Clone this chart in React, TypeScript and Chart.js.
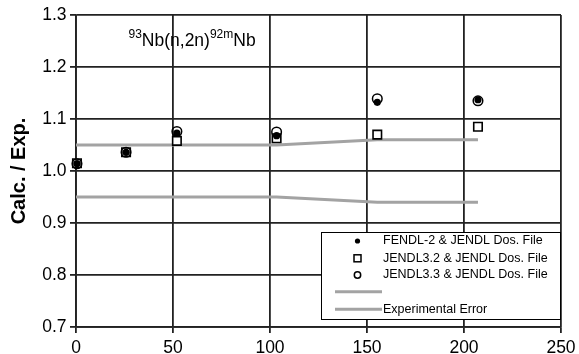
import React, { useEffect, useRef } from "react";
import { Chart, registerables } from "chart.js";
Chart.register(...registerables);

const xPts = [0.5, 25.8, 52, 103.4, 155.3, 207.2];
const yFendl = [1.014, 1.036, 1.073, 1.068, 1.132, 1.137];
const yJendl32 = [1.015, 1.036, 1.058, 1.063, 1.07, 1.085];
const yJendl33 = [1.014, 1.036, 1.076, 1.075, 1.139, 1.135];
const xErr = [0, 25.8, 52, 103.4, 155.3, 207.2];
const errUpper = [1.05, 1.05, 1.05, 1.05, 1.06, 1.06];
const errLower = [0.95, 0.95, 0.95, 0.95, 0.94, 0.94];
const legendLabels = [
  "FENDL-2 & JENDL Dos. File",
  "JENDL3.2 & JENDL Dos. File",
  "JENDL3.3 & JENDL Dos. File",
  "",
  "Experimental Error",
];
const yTitle = "Calc. / Exp.";
const FONT = "'Liberation Sans', Arial, sans-serif";
const ERR_COLOR = "#a3a3a3";

const pts = (xs: number[], ys: number[]) => xs.map((x, i) => ({ x, y: ys[i] }));

const overlay = {
  id: "overlay",
  afterDraw(chart: any) {
    const ctx = chart.ctx as CanvasRenderingContext2D;
    const ca = chart.chartArea;
    ctx.save();
    // y axis title
    ctx.save();
    ctx.translate(24.5, (ca.top + ca.bottom) / 2);
    ctx.rotate(-Math.PI / 2);
    ctx.font = `bold 20px ${FONT}`;
    ctx.fillStyle = "#000";
    ctx.textAlign = "center";
    ctx.textBaseline = "alphabetic";
    ctx.fillText(yTitle, 0, 0);
    ctx.restore();

    // reaction title with superscripts
    const parts: [string, boolean][] = [["93", true], ["Nb(n,2n)", false], ["92m", true], ["Nb", false]];
    let x = 128.5;
    const base = 46;
    ctx.fillStyle = "#000";
    ctx.textAlign = "left";
    ctx.textBaseline = "alphabetic";
    for (const [t, sup] of parts) {
      ctx.font = sup ? `12px ${FONT}` : `17.5px ${FONT}`;
      ctx.fillText(t, x, sup ? base - 8.5 : base);
      x += ctx.measureText(t).width;
    }

    // legend
    const lx = 321, ly = 232, lw = 239, lh = 87;
    ctx.fillStyle = "#fff";
    ctx.fillRect(lx, ly, lw, lh);
    ctx.strokeStyle = "#000";
    ctx.lineWidth = 1;
    ctx.strokeRect(lx + 0.5, ly + 0.5, lw, lh);
    const rows = [241, 258.3, 275, 291.7, 309.3];
    const symX = 357.5;
    ctx.font = `12.5px ${FONT}`;
    ctx.textBaseline = "middle";
    rows.forEach((ry, i) => {
      ctx.strokeStyle = "#000";
      ctx.fillStyle = "#000";
      ctx.lineWidth = 1.5;
      if (i === 0) {
        ctx.beginPath();
        ctx.arc(symX, ry, 2.6, 0, Math.PI * 2);
        ctx.fill();
      } else if (i === 1) {
        ctx.strokeRect(symX - 3.5, ry - 3.5, 7, 7);
      } else if (i === 2) {
        ctx.beginPath();
        ctx.arc(symX, ry, 3.2, 0, Math.PI * 2);
        ctx.stroke();
      } else {
        ctx.strokeStyle = ERR_COLOR;
        ctx.lineWidth = 3;
        ctx.beginPath();
        ctx.moveTo(335, ry);
        ctx.lineTo(382, ry);
        ctx.stroke();
      }
      ctx.fillStyle = "#000";
      if (legendLabels[i]) ctx.fillText(legendLabels[i], 383, ry);
    });
    ctx.restore();
  },
};

export default function App() {
  const ref = useRef<HTMLCanvasElement>(null);
  useEffect(() => {
    if (!ref.current) return;
    const grid = {
      color: "#222",
      lineWidth: 1.8,
      tickLength: 6,
      drawTicks: true,
    };
    const chart = new Chart(ref.current, {
      type: "scatter",
      data: {
        datasets: [
          {
            type: "line",
            label: "err upper",
            data: pts(xErr, errUpper),
            borderColor: ERR_COLOR,
            borderWidth: 3,
            pointRadius: 0,
            showLine: true,
            fill: false,
            order: 5,
          },
          {
            type: "line",
            label: "Experimental Error",
            data: pts(xErr, errLower),
            borderColor: ERR_COLOR,
            borderWidth: 3,
            pointRadius: 0,
            showLine: true,
            fill: false,
            order: 5,
          },
          {
            label: legendLabels[1],
            data: pts(xPts, yJendl32),
            pointStyle: "rect",
            pointRadius: 6,
            backgroundColor: "#fff",
            borderColor: "#000",
            pointBorderWidth: 1.6,
            clip: false,
            order: 4,
          },
          {
            label: legendLabels[2],
            data: pts(xPts, yJendl33),
            pointStyle: "circle",
            pointRadius: 4.8,
            backgroundColor: "rgba(0,0,0,0)",
            borderColor: "#000",
            pointBorderWidth: 1.5,
            clip: false,
            order: 3,
          },
          {
            label: legendLabels[0],
            data: pts(xPts, yFendl),
            pointStyle: "circle",
            pointRadius: 3.6,
            backgroundColor: "#000",
            borderColor: "#000",
            pointBorderWidth: 0,
            clip: false,
            order: 2,
          },
        ],
      } as any,
      options: {
        responsive: false,
        animation: false,
        events: [],
        layout: { padding: { left: 0, top: 15, right: 18, bottom: 0 } },
        plugins: { legend: { display: false }, tooltip: { enabled: false } },
        scales: {
          x: {
            type: "linear",
            min: 0,
            max: 250,
            afterFit: (s: any) => {
              s.height = 27;
              s.paddingRight = 0;
              s.paddingLeft = 0;
            },
            grid,
            border: { color: "#222", width: 1.8 },
            ticks: {
              stepSize: 50,
              color: "#000",
              padding: 5,
              minRotation: 0,
              maxRotation: 0,
              font: { family: FONT, size: 17.5 },
            },
          },
          y: {
            type: "linear",
            min: 0.7,
            max: 1.3,
            afterFit: (s: any) => { s.width = 76; },
            grid,
            border: { color: "#222", width: 1.8 },
            ticks: {
              stepSize: 0.1,
              color: "#000",
              padding: 3.5,
              font: { family: FONT, size: 17.5 },
              callback: (v: any) => Number(v).toFixed(1),
            },
          },
        },
      } as any,
      plugins: [overlay],
    });
    return () => chart.destroy();
  }, []);
  return (
    <canvas
      ref={ref}
      width={579}
      height={354}
      style={{ position: "fixed", left: 0, top: 0, display: "block" }}
    />
  );
}
